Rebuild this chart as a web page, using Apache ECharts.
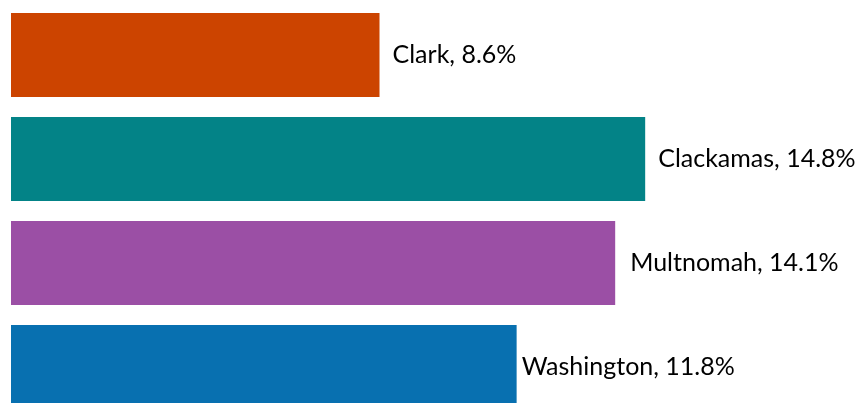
<!DOCTYPE html>
<html>
<head>
<meta charset="utf-8">
<script src="https://cdn.jsdelivr.net/npm/echarts@6/dist/echarts.min.js"></script>
<style>html,body{margin:0;padding:0;background:#fff;}#chart{width:857px;height:403px;}</style>
</head>
<body>
<div id="chart"></div>
<script>
const categories = ['Clark', 'Clackamas', 'Multnomah', 'Washington'];
const values = [8.6, 14.8, 14.1, 11.8];
const colors = ['#CC4400', '#038387', '#9B4FA5', '#0870B0'];
const labelGaps = [13, 13, 15, 5];

const chart = echarts.init(document.getElementById('chart'));
chart.setOption({
  animation: false,
  grid: { left: 11, top: 3, width: 857, height: 416, containLabel: false, outerBoundsMode: 'none' },
  xAxis: { type: 'value', min: 0, max: 20, show: false },
  yAxis: { type: 'category', data: categories, inverse: true, show: false },
  series: [{
    type: 'bar',
    barCategoryGap: '19.2%',
    data: values.map((v, i) => ({ value: v, itemStyle: { color: colors[i] }, label: { distance: labelGaps[i] } })),
    label: {
      show: true,
      position: 'right',
      distance: 13,
      formatter: p => p.name + ', ' + p.value.toFixed(1) + '%',
      fontFamily: 'Lato',
      fontSize: 25,
      color: '#000'
    }
  }]
});
</script>
</body>
</html>
